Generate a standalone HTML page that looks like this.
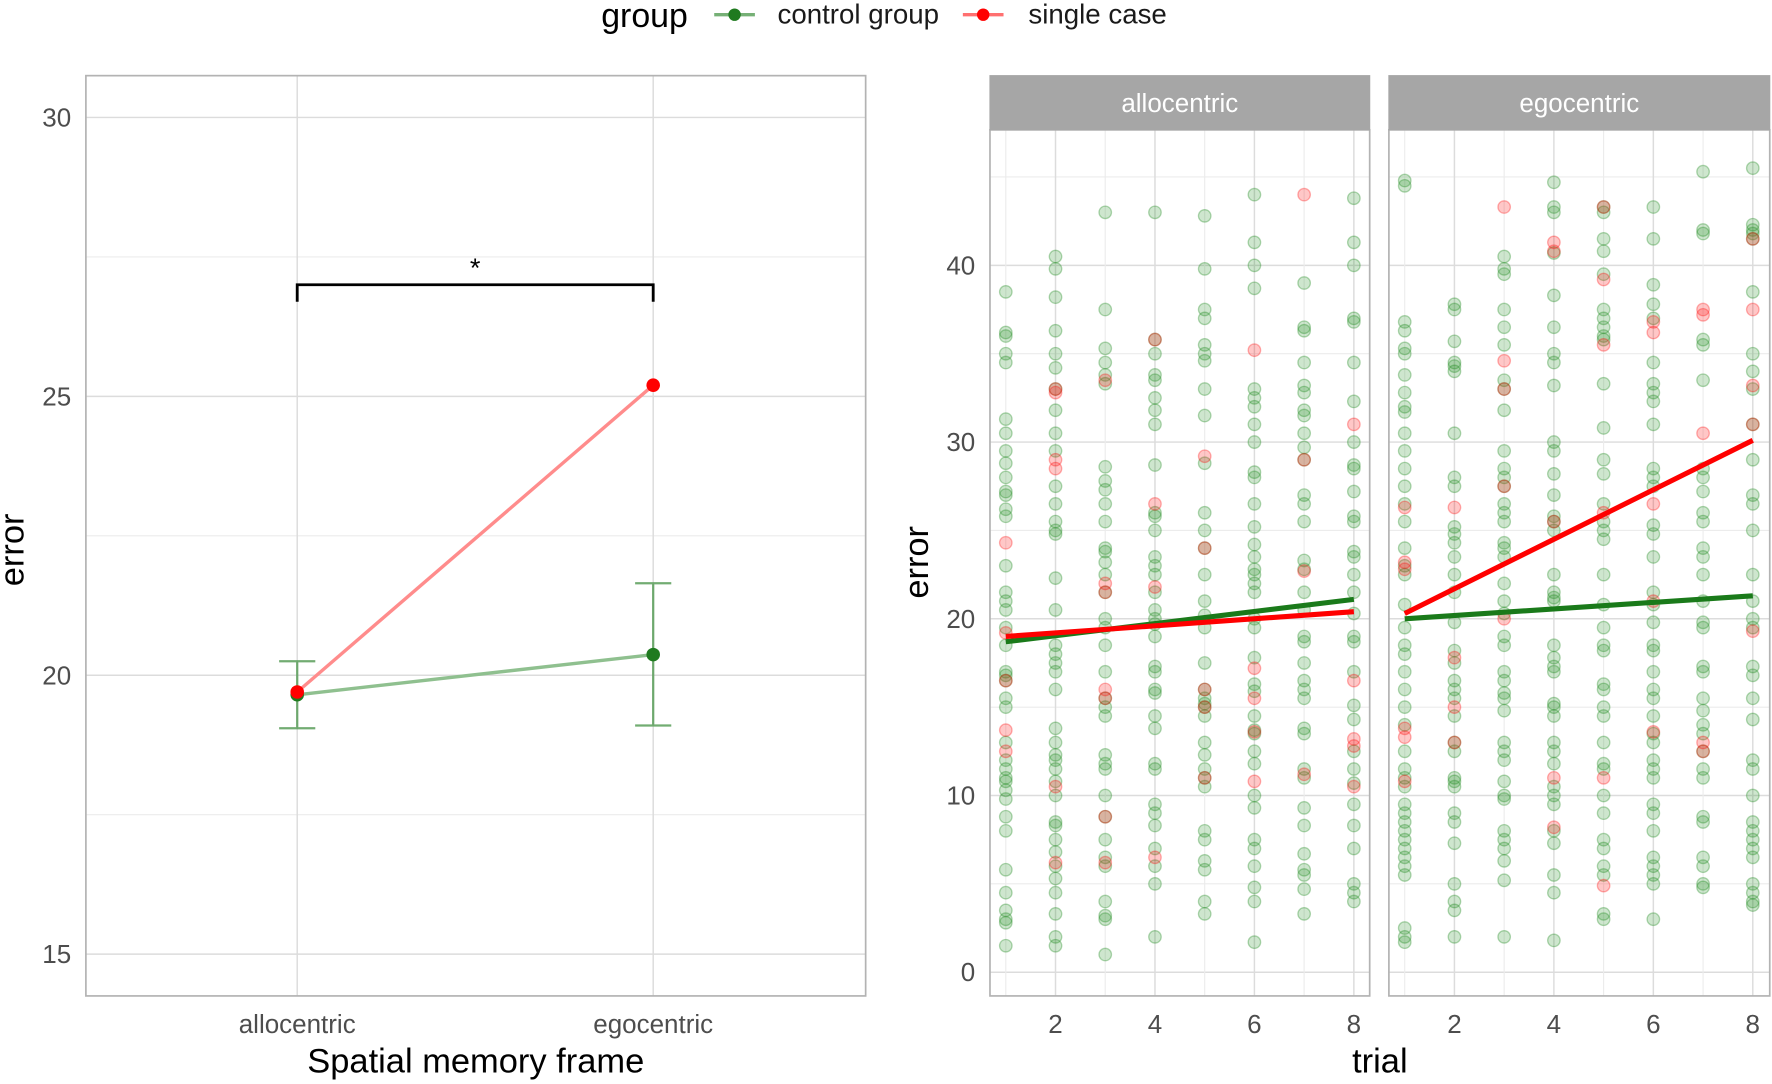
<!DOCTYPE html>
<html><head><meta charset="utf-8"><style>
html,body{margin:0;padding:0;background:#fff;}
svg{display:block;font-family:"Liberation Sans",sans-serif;}
</style></head><body>
<svg id="chart" width="1772" height="1084" viewBox="0 0 1568 960" preserveAspectRatio="none" xmlns="http://www.w3.org/2000/svg">
<g id="legend">
<text x="532" y="24" font-size="30" fill="#000">group</text>
<g><line x1="632" y1="13" x2="668" y2="13" stroke="#3d8f3d" stroke-width="3" opacity="0.7"/><circle cx="650" cy="13" r="5.5" fill="#1f7a1f"/><text x="688" y="21" font-size="24.5" fill="#1a1a1a">control group</text></g>
<g><line x1="852" y1="13" x2="888" y2="13" stroke="#ff7070" stroke-width="3"/><circle cx="870" cy="13" r="5.5" fill="#ff0000"/><text x="910" y="21" font-size="24.5" fill="#1a1a1a">single case</text></g>
</g>
<g id="left"></g>
<g id="right"></g>
</svg>
<script>
const NS="http://www.w3.org/2000/svg";
function mk(parent,tag,attrs,text){const e=document.createElementNS(NS,tag);for(const k in attrs)e.setAttribute(k,attrs[k]);if(text!==undefined)e.textContent=text;parent.appendChild(e);return e;}

// ---- Left chart data ----
const frames=["allocentric","egocentric"];
const controlMeans=[19.65,20.37];
const controlLow=[19.05,19.1];
const controlHigh=[20.25,21.65];
const singleCase=[19.7,25.2];
const leftTicks=[15,20,25,30];
const leftMinor=[17.5,22.5,27.5];
const bracketLevel=27.0;

// ---- Right chart data (error by trial) ----
const trials=[1,2,3,4,5,6,7,8];
const rightTicksY=[0,10,20,30,40];
const rightMinorY=[5,15,25,35,45];
const rightTicksX=[2,4,6,8];
const alloControl=[
[38.5,36.2,36,35,34.5,31.3,30.5,29.5,28.8,28,27.2,27,26.2,25.8,23,21.5,21,20.5,19.5,18.5,17,16.8,16.5,15.5,15,13,12,11.5,11,10.8,10.3,9.8,8.8,8,5.8,4.5,3.5,3,2.8,1.5],
[40.5,39.8,38.2,36.3,35,34.2,33,31.8,30.5,29.5,27.5,26.5,25.5,25,24.8,22.3,20.5,18.5,18,17.5,17,16,13.8,13,12.3,12,11.5,10.8,10,8.5,8.3,7.5,6.8,6,5.3,4.5,3.3,2,1.5],
[43,37.5,35.3,34.5,33.8,33.3,28.6,27.8,27.3,26.5,25.5,24,23.8,23.2,22.5,21.5,20,19.5,18.5,17,15.5,15,14.5,12.3,11.8,11.5,10,8.8,7.5,6.5,6,4,3.2,3,1],
[43,35.8,35,33.8,33.5,32.5,31.8,31,28.7,26,25.8,25,23.5,23,22.5,21.5,20.5,20,19.7,19,17.3,17,16,15.8,14.5,13.8,11.8,11.5,9.5,9,8.3,7,6,5,2],
[42.8,39.8,37.5,37,35.5,35,34.6,33,31.5,28.8,26,25,24,22.5,21,20.2,19.5,17.5,16,15.5,15.2,15,14.5,13,12.3,11.5,11,10.5,8,7.5,6.3,5.8,4,3.3],
[44,41.3,40,38.7,33,32.5,32,31,30,28.3,28,26.5,25.2,24.2,23.5,22.8,22.5,22,21.5,20,19.5,17.8,16.3,15.9,14.5,13.7,13.5,12.5,11.8,10,9.3,7.5,7,6,4.8,4,1.7],
[39,36.5,36.3,34.5,33.2,32.8,31.8,31.5,30.5,29.7,29,27,26.5,25.5,23.3,22.8,21.5,20.5,19,18.7,17.5,16.5,16,15.5,13.8,13.5,11.5,11,9.3,8.3,6.7,5.8,5.5,4.7,3.3],
[43.8,41.3,40,37,36.8,34.5,32.3,30,28.7,28.5,27.2,25.8,25.5,23.8,23.5,22.5,21.5,20.3,19,18.7,17,15.1,14.3,12.5,11.5,10.7,9.5,8.3,7,5,4.5,4]];
const alloSingle=[[24.3,19.2,16.5,13.7,12.5],[33,32.8,29,28.5,10.5,6.2],[33.5,22,21.5,16,15.5,8.8,6.2],[35.8,26.5,21.8,6.5],[29.2,24,16,15,11],[35.2,17.2,15.5,13.6,10.8],[44,29,22.7,11.2],[31,16.5,13.2,12.8,10.5]];
const egoControl=[
[44.8,44.5,36.8,36.3,35.3,35,33.8,32.8,32,31.7,30.5,29.5,28.5,27.5,26.5,25.5,24,23,22.5,20.8,19.5,18.5,18,17,16,15,14,12.5,11.5,11,10.5,9.5,9,8.5,8,7.5,7,6.5,6,5.5,2.5,2,1.7],
[37.8,37.5,35.7,34.5,34.3,34,30.5,28,27.5,25.2,24.8,24.3,23.5,22.5,21.5,19.8,18.2,17.5,16.5,16,15.5,14.5,13,12.5,11,10.8,10.5,9,8.5,7.3,5,4,3.5,2],
[40.5,39.8,39.5,37.5,36.5,35.5,33.5,33,31.8,29.5,28.5,28,27.5,26.5,26,25.5,24.3,24,23.5,22,21,20.3,19,18.5,17,16.5,15.8,15.5,14.8,13,12.5,12,10.8,10,9.8,8,7.5,7,6.3,5.2,2],
[44.7,43.3,43,40.7,38.3,36.5,35,34.5,33.2,30,29.5,28.2,27,25.8,25.5,25,22.5,21.5,21.2,21,18.5,17.8,17.3,17,15.2,15,14.5,13,12.5,11.8,10.5,10,9.5,8,7.3,5.5,4.5,1.8],
[43.3,43,41.5,40.8,39.5,37.5,37,36.5,36,35.8,33.3,30.8,29,28.2,26.5,25.5,25,24.5,22.5,20.8,19.5,18.5,18.2,16.3,16,15,14.5,13,11.8,11.5,10,9,7.5,7,6,5.5,3.3,3],
[43.3,41.5,38.9,37.8,37,34.5,33.3,32.8,32.3,31,28.5,28,27.5,25.3,24.8,23.5,21.5,20.8,19.8,18.5,18.2,17,16,15.5,14.5,13.5,13,12,11.5,11,9.5,9,8,6.5,6,5.5,5,3],
[45.3,42,41.8,35.8,35.5,33.5,28.5,28,27.2,26,25.5,24,23.5,22.5,21,19.8,19.5,17.3,17,15.5,14.8,14,13.5,12.5,11.5,11,8.8,8.5,6.5,6,5,4.8],
[45.5,42.3,42,41.8,41.5,38.5,35,34,33,31,29,27,26.5,25,22.5,21,20,19.5,17.3,16.8,15.5,14.3,12,11.5,10,8.5,8,7.5,7,6.5,5,4.5,4,3.8]];
const egoSingle=[[26.3,23.2,22.8,13.8,13.3,10.8],[26.3,17.8,15,13],[43.3,34.6,33,27.5,20],[41.3,40.8,25.5,11,8.2],[43.3,39.2,35.5,26,11,4.9],[36.8,36.2,26.5,21,13.6],[37.5,37.2,30.5,13,12.5],[41.5,37.5,33.2,31,19.3]];
const alloFitControl=[18.7,21.1];
const alloFitSingle=[19.0,20.4];
const egoFitControl=[20.0,21.3];
const egoFitSingle=[20.3,30.1];

// ---------- Left panel ----------
const L=document.getElementById('left');
const lx=i=>263+i*315;
const ly=v=>598-(v-20)*49.4;
let e;
e=mk(L,'rect',{x:76,y:67,width:690,height:815,fill:'#fff'});


leftMinor.forEach(v=>{e=mk(L,'line',{x1:76,x2:766,y1:ly(v),y2:ly(v),stroke:'#ececec','stroke-width':1});

});
leftTicks.forEach(v=>{e=mk(L,'line',{x1:76,x2:766,y1:ly(v),y2:ly(v),stroke:'#dcdcdc','stroke-width':1.3});


e=mk(L,'text',{x:63,y:ly(v)+8,'font-size':23,fill:'#4d4d4d','text-anchor':'end'},String(v));

});
frames.forEach((f,i)=>{e=mk(L,'line',{x1:lx(i),x2:lx(i),y1:67,y2:882,stroke:'#dcdcdc','stroke-width':1.3});


e=mk(L,'text',{x:lx(i),y:915,'font-size':23,fill:'#4d4d4d','text-anchor':'middle'},f);

});
e=mk(L,'rect',{x:76,y:67,width:690,height:815,fill:'none',stroke:'#b3b3b3','stroke-width':1.5});


const by=ly(bracketLevel);
e=mk(L,'path',{d:`M${lx(0)},${by+15} V${by} H${lx(1)} V${by+15}`,fill:'none',stroke:'#000','stroke-width':2.5});


e=mk(L,'text',{x:(lx(0)+lx(1))/2,y:by-7,'font-size':24,'text-anchor':'middle'},'*');


frames.forEach((f,i)=>{const g=mk(L,'g',{stroke:'#5a9e5a','stroke-width':2,opacity:0.85});


mk(g,'line',{x1:lx(i),x2:lx(i),y1:ly(controlLow[i]),y2:ly(controlHigh[i])});
mk(g,'line',{x1:lx(i)-16,x2:lx(i)+16,y1:ly(controlLow[i]),y2:ly(controlLow[i])});
mk(g,'line',{x1:lx(i)-16,x2:lx(i)+16,y1:ly(controlHigh[i]),y2:ly(controlHigh[i])});});
e=mk(L,'line',{x1:lx(0),y1:ly(controlMeans[0]),x2:lx(1),y2:ly(controlMeans[1]),stroke:'#8fc08f','stroke-width':3});


e=mk(L,'line',{x1:lx(0),y1:ly(singleCase[0]),x2:lx(1),y2:ly(singleCase[1]),stroke:'#ff8c8c','stroke-width':3});


frames.forEach((f,i)=>{e=mk(L,'circle',{cx:lx(i),cy:ly(controlMeans[i]),r:6,fill:'#1f7a1f'});


e=mk(L,'circle',{cx:lx(i),cy:ly(singleCase[i]),r:6,fill:'#ff0000'});

});
e=mk(L,'text',{x:421,y:950,'font-size':30.5,'text-anchor':'middle'},'Spatial memory frame');


e=mk(L,'text',{x:0,y:0,'font-size':30.5,'text-anchor':'middle',transform:'translate(21,487) rotate(-90)'},'error');



// ---------- Right panels ----------
const R=document.getElementById('right');
const ry=v=>861-v*15.65;
const panels=[{name:'allocentric',x0:876,x1:1212,c:alloControl,s:alloSingle,fc:alloFitControl,fs:alloFitSingle},
{name:'egocentric',x0:1229,x1:1566,c:egoControl,s:egoSingle,fc:egoFitControl,fs:egoFitSingle}];
panels.forEach(p=>{
 const rx=t=>p.x0+14+(t-1)*44;
 const g=mk(R,'g',{});
 
 
 rightMinorY.forEach(v=>{e=mk(g,'line',{x1:p.x0,x2:p.x1,y1:ry(v),y2:ry(v),stroke:'#ececec','stroke-width':1});
 
 });
 rightTicksY.forEach(v=>{e=mk(g,'line',{x1:p.x0,x2:p.x1,y1:ry(v),y2:ry(v),stroke:'#dcdcdc','stroke-width':1.3});
 
 });
 trials.forEach(t=>{const maj=rightTicksX.includes(t);
 e=mk(g,'line',{x1:rx(t),x2:rx(t),y1:115,y2:882,stroke:maj?'#dcdcdc':'#ececec','stroke-width':maj?1.3:1});
 
 });
 rightTicksX.forEach(t=>{e=mk(g,'text',{x:rx(t),y:915,'font-size':23,fill:'#4d4d4d','text-anchor':'middle'},String(t));
 
 });
 trials.forEach((t,i)=>{p.c[i].forEach(v=>{e=mk(g,'circle',{cx:rx(t),cy:ry(v),r:5.5,fill:'rgba(34,139,34,0.22)',stroke:'rgba(34,139,34,0.35)','stroke-width':1.2});
 
 });
 p.s[i].forEach(v=>{e=mk(g,'circle',{cx:rx(t),cy:ry(v),r:5.5,fill:'rgba(255,0,0,0.22)',stroke:'rgba(255,0,0,0.3)','stroke-width':1.2});
 
 });});
 e=mk(g,'line',{x1:rx(1),y1:ry(p.fc[0]),x2:rx(8),y2:ry(p.fc[1]),stroke:'#1a7a1a','stroke-width':4.5});
 
 
 e=mk(g,'line',{x1:rx(1),y1:ry(p.fs[0]),x2:rx(8),y2:ry(p.fs[1]),stroke:'#ff0000','stroke-width':4.5});
 
 
 e=mk(g,'rect',{x:p.x0,y:115,width:p.x1-p.x0,height:767,fill:'none',stroke:'#b3b3b3','stroke-width':1.5});
 
 
 e=mk(g,'rect',{x:p.x0,y:67,width:p.x1-p.x0,height:48,fill:'#a6a6a6',stroke:'#a6a6a6'});
 
 
 e=mk(g,'text',{x:(p.x0+p.x1)/2,y:99,'font-size':23,fill:'#fff','text-anchor':'middle'},p.name);
 
 
});
rightTicksY.forEach(v=>{e=mk(R,'text',{x:863,y:ry(v)+8,'font-size':23,fill:'#4d4d4d','text-anchor':'end'},String(v));

});
e=mk(R,'text',{x:1221,y:950,'font-size':30.5,'text-anchor':'middle'},'trial');


e=mk(R,'text',{x:0,y:0,'font-size':30.5,'text-anchor':'middle',transform:'translate(821,498) rotate(-90)'},'error');


</script>
</body></html>
